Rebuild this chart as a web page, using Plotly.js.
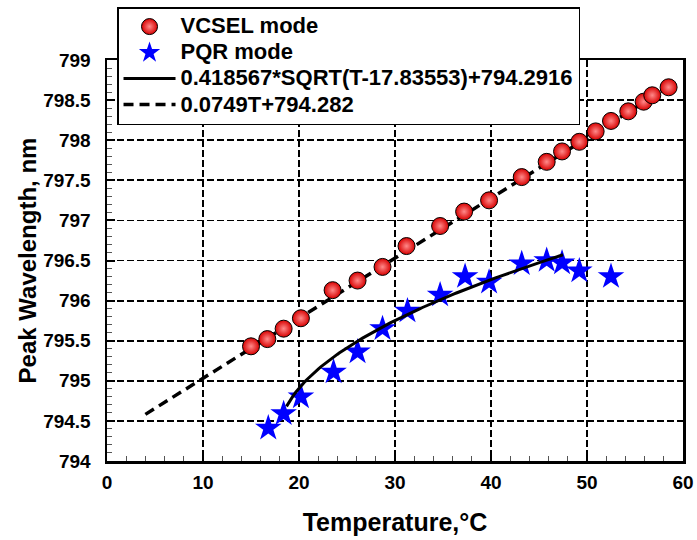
<!DOCTYPE html>
<html>
<head>
<meta charset="utf-8">
<script src="https://cdn.plot.ly/plotly-3.0.1.min.js"></script>
<style>
  html, body { margin: 0; padding: 0; background: #ffffff; }
  #chart { width: 697px; height: 540px; }
</style>
</head>
<body>
<div id="chart"></div>
<script>
// Measured peak wavelengths (nm) versus heat-sink temperature (°C)
const vcselT = [15.0, 16.7, 18.4, 20.2, 23.5, 26.1, 28.7, 31.2, 34.7, 37.2, 39.8,
                43.2, 45.8, 47.4, 49.2, 50.9, 52.5, 54.3, 55.9, 56.8, 58.5];
const vcselWl = [795.43, 795.52, 795.65, 795.78, 796.13, 796.25, 796.42, 796.68, 796.93, 797.11, 797.25,
                 797.54, 797.73, 797.86, 797.98, 798.11, 798.24, 798.36, 798.48, 798.56, 798.66];

const pqrT = [16.8, 18.4, 20.2, 23.6, 26.1, 28.7, 31.3, 34.7, 37.3, 39.8,
              43.2, 45.8, 47.4, 49.2, 52.5];
const pqrWl = [794.41, 794.59, 794.80, 795.11, 795.36, 795.65, 795.87, 796.07, 796.30, 796.23,
               796.46, 796.50, 796.47, 796.37, 796.30];

// Fit coefficients, as written in the legend
const sqrtFitA = 0.418567, sqrtFitT0 = 17.83553, sqrtFitB = 794.2916;
const sqrtFitRange = [18.7, 47.5];
const linFitSlope = 0.0749, linFitIntercept = 794.282;
const linFitRange = [4.0, 58.5];

const xTicks = [0, 10, 20, 30, 40, 50, 60];
const xTickText = ['0', '10', '20', '30', '40', '50', '60'];
const yTicks = [794, 794.5, 795, 795.5, 796, 796.5, 797, 797.5, 798, 798.5, 799];
const yTickText = ['794', '794.5', '795', '795.5', '796', '796.5', '797', '797.5', '798', '798.5', '799'];

const legendNames = ['VCSEL mode', 'PQR mode',
                     '0.418567*SQRT(T-17.83553)+794.2916', '0.0749T+794.282'];

// Sample the fit curves along temperature
function sampleRange(range, n) {
  const out = [];
  for (let i = 0; i <= n; i++) out.push(range[0] + (range[1] - range[0]) * i / n);
  return out;
}
const sqrtT = sampleRange(sqrtFitRange, 120);
const sqrtWl = sqrtT.map(t => sqrtFitA * Math.sqrt(t - sqrtFitT0) + sqrtFitB);
const linT = sampleRange(linFitRange, 2);
const linWl = linT.map(t => linFitSlope * t + linFitIntercept);

const FONT = 'Liberation Sans, Arial, sans-serif';
// Legend rows are packed tighter than the label size would give by default,
// so the row height follows a smaller base size and each label is enlarged inline.
const legendLabel = s => '<span style="font-size:22px">' + s + '</span>';

const traces = [
  {
    x: linT, y: linWl, mode: 'lines', name: legendLabel(legendNames[3]), legendrank: 4,
    line: { color: '#000000', width: 3.5, dash: '10px,6px' }
  },
  {
    x: vcselT, y: vcselWl, mode: 'markers', name: legendLabel(legendNames[0]), legendrank: 1,
    marker: {
      symbol: 'circle', size: 17, color: '#d80000',
      gradient: { type: 'radial', color: '#ff8a8a' },
      line: { color: '#000000', width: 1 }
    }
  },
  {
    x: pqrT, y: pqrWl, mode: 'markers', name: legendLabel(legendNames[1]), legendrank: 2,
    marker: { symbol: 'star', size: 20, color: '#0000ff', line: { width: 0 } }
  },
  {
    x: sqrtT, y: sqrtWl, mode: 'lines', name: legendLabel(legendNames[2]), legendrank: 3,
    line: { color: '#000000', width: 3 }
  }
];

const axisCommon = {
  showline: true, linecolor: '#000000', linewidth: 2.5, mirror: true,
  showgrid: true, gridcolor: '#000000', gridwidth: 1.8, griddash: '7px,3px',
  zeroline: false,
  ticks: 'inside', ticklen: 8, tickwidth: 2, tickcolor: '#000000',
  tickfont: { family: FONT, size: 19, color: '#000000', weight: 700 },
  automargin: false
};

const layout = {
  width: 697, height: 540,
  margin: { l: 107, r: 14, t: 60, b: 79, autoexpand: false },
  paper_bgcolor: '#ffffff', plot_bgcolor: '#ffffff',
  showlegend: true,
  legend: {
    x: 0.0174, y: 1.132, xanchor: 'left', yanchor: 'top',
    bgcolor: '#ffffff', bordercolor: '#000000', borderwidth: 1.5,
    font: { family: FONT, size: 17.7, color: '#000000', weight: 700 },
    itemwidth: 52, tracegroupgap: 0
  },
  xaxis: Object.assign({}, axisCommon, {
    range: [0, 60], tickmode: 'array', tickvals: xTicks, ticktext: xTickText,
    ticklabelstandoff: 3,
    minor: { dtick: 2, ticks: 'inside', ticklen: 5, tickwidth: 1, tickcolor: '#555555', showgrid: false },
    title: { text: 'Temperature,°C', standoff: 21,
             font: { family: FONT, size: 25, color: '#000000', weight: 700 } }
  }),
  yaxis: Object.assign({}, axisCommon, {
    range: [794, 799], tickmode: 'array', tickvals: yTicks, ticktext: yTickText,
    ticklabelstandoff: 10,
    minor: { dtick: 0.1, ticks: 'inside', ticklen: 5, tickwidth: 1, tickcolor: '#555555', showgrid: false },
    title: { text: 'Peak Wavelength, nm', standoff: 0,
             font: { family: FONT, size: 24, color: '#000000', weight: 700 } }
  })
};

Plotly.newPlot('chart', traces, layout, { displayModeBar: false, staticPlot: true });
</script>
</body>
</html>
